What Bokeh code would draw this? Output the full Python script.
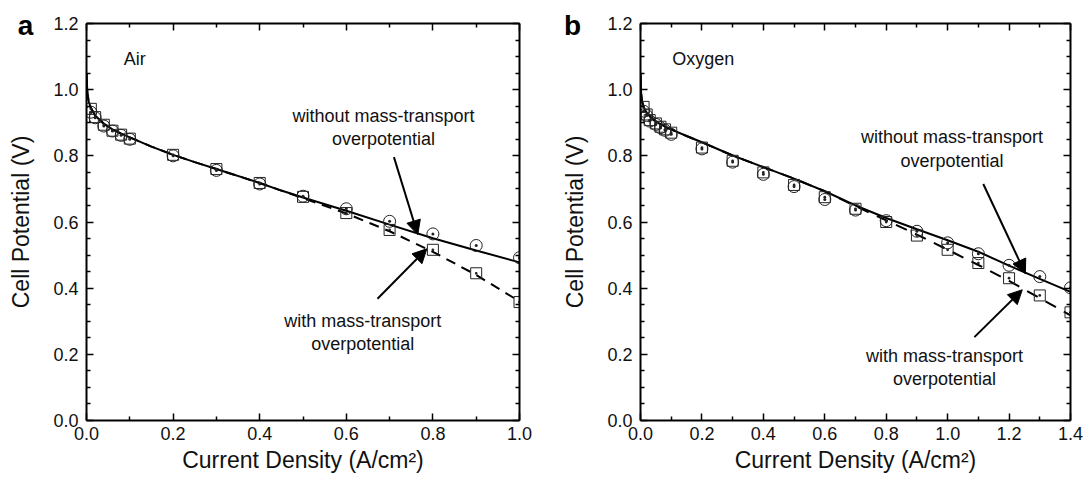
from bokeh.plotting import figure
from bokeh.layouts import row
from bokeh.models import (LinearAxis, FixedTicker, Range1d, Label, Arrow,
                          NormalHead, PrintfTickFormatter, CustomJSTickFormatter)
from bokeh.embed import file_html
from bokeh.resources import INLINE

FONT = "Liberation Sans"

# ---------------- Panel a : Air ----------------
air_x = [0.01, 0.02, 0.04, 0.06, 0.08, 0.1, 0.2, 0.3, 0.4, 0.5, 0.6, 0.7, 0.8, 0.9, 1.0]
air_circle = [0.932, 0.915, 0.890, 0.875, 0.862, 0.850, 0.800, 0.756, 0.715, 0.678,
              0.640, 0.602, 0.564, 0.529, 0.492]
air_square = [0.942, 0.917, 0.894, 0.876, 0.864, 0.852, 0.803, 0.760, 0.718, 0.676,
              0.627, 0.576, 0.516, 0.445, 0.358]
air_line_x = [0.0, 0.002, 0.005, 0.01, 0.02, 0.04, 0.06, 0.08, 0.1, 0.15, 0.2, 0.25,
              0.3, 0.4, 0.45, 0.5, 0.6, 0.7, 0.8, 0.9, 1.0]
air_without = [1.05, 0.99, 0.965, 0.945, 0.922, 0.897, 0.880, 0.867, 0.856, 0.828, 0.803,
               0.781, 0.760, 0.718, 0.695, 0.674, 0.634, 0.592, 0.551, 0.514, 0.478]
air_with = [1.05, 0.99, 0.965, 0.945, 0.922, 0.897, 0.880, 0.867, 0.856, 0.828, 0.803,
            0.781, 0.760, 0.718, 0.695, 0.672, 0.626, 0.572, 0.510, 0.440, 0.360]

# ---------------- Panel b : Oxygen ----------------
oxy_x = [0.01, 0.02, 0.03, 0.05, 0.065, 0.08, 0.1, 0.2, 0.3, 0.4, 0.5, 0.6, 0.7, 0.8,
         0.9, 1.0, 1.1, 1.2, 1.3, 1.4]
oxy_circle = [0.935, 0.922, 0.905, 0.895, 0.885, 0.877, 0.865, 0.821, 0.781, 0.744,
              0.707, 0.668, 0.636, 0.604, 0.572, 0.537, 0.504, 0.469, 0.435, 0.401]
oxy_square = [0.948, 0.925, 0.908, 0.898, 0.888, 0.880, 0.870, 0.825, 0.785, 0.750,
              0.712, 0.675, 0.640, 0.600, 0.559, 0.516, 0.476, 0.430, 0.378, 0.327]
oxy_line_x = [0.0, 0.002, 0.005, 0.01, 0.02, 0.04, 0.06, 0.08, 0.1, 0.15, 0.2, 0.3, 0.4,
              0.5, 0.6, 0.7, 0.8, 0.9, 1.0, 1.1, 1.2, 1.3, 1.4]
oxy_without = [1.05, 0.99, 0.965, 0.948, 0.930, 0.910, 0.898, 0.888, 0.880, 0.860, 0.841,
               0.801, 0.766, 0.731, 0.693, 0.650, 0.612, 0.578, 0.545, 0.510, 0.468,
               0.428, 0.389]
oxy_with = [1.05, 0.99, 0.965, 0.948, 0.930, 0.910, 0.898, 0.888, 0.880, 0.860, 0.841,
            0.801, 0.766, 0.731, 0.693, 0.648, 0.605, 0.562, 0.516, 0.470, 0.422,
            0.370, 0.318]

# ---------------- ticks and texts ----------------
y_ticks = [0.0, 0.2, 0.4, 0.6, 0.8, 1.0, 1.2]
y_minor = [0.05, 0.1, 0.15, 0.25, 0.3, 0.35, 0.45, 0.5, 0.55, 0.65, 0.7, 0.75,
           0.85, 0.9, 0.95, 1.05, 1.1, 1.15]
xa_ticks = [0.0, 0.2, 0.4, 0.6, 0.8, 1.0]
xa_minor = [0.1, 0.3, 0.5, 0.7, 0.9]
xb_ticks = [0.0, 0.2, 0.4, 0.6, 0.8, 1.0, 1.2, 1.4]
xb_minor = [0.1, 0.3, 0.5, 0.7, 0.9, 1.1, 1.3]

y_title = "Cell Potential (V)"
x_title = "Current Density (A/cm²)"
txt_without = ["without mass-transport", "overpotential"]
txt_with = ["with mass-transport", "overpotential"]


def style_axis(ax, ticks, minor, labels=True):
    ax.ticker = FixedTicker(ticks=ticks, minor_ticks=minor)
    ax.major_tick_in = 7
    ax.major_tick_out = 0
    ax.minor_tick_in = 4
    ax.minor_tick_out = 0
    ax.major_tick_line_width = 1.5
    ax.minor_tick_line_width = 1.5
    ax.major_tick_line_color = "black"
    ax.minor_tick_line_color = "black"
    ax.axis_line_width = 2
    ax.axis_line_color = "black"
    if labels:
        ax.formatter = PrintfTickFormatter(format="%.1f")
        ax.major_label_text_font = FONT
        ax.major_label_text_font_size = "18px"
        ax.major_label_text_color = "#111111"
        ax.axis_label_text_font = FONT
        ax.axis_label_text_font_size = "23px"
        ax.axis_label_text_font_style = "normal"
        ax.axis_label_text_color = "#111111"
    else:
        ax.formatter = CustomJSTickFormatter(code="return ''")
        ax.major_label_text_font_size = "0px"
        ax.major_label_standoff = 0


def make_panel(xmax, xt, xm, lx, lwo, lwi, px, pc, ps, bl, br, gas, gas_x,
               wo_xy, wo_arrow, wi_xy, wi_arrow, dash):
    p = figure(width=542, height=481, x_range=Range1d(0, xmax), y_range=Range1d(0, 1.2),
               output_backend="svg", toolbar_location=None,
               min_border_left=bl, min_border_right=br, min_border_top=23,
               min_border_bottom=61)
    p.grid.visible = False
    p.outline_line_color = "black"
    p.outline_line_width = 1
    p.background_fill_color = "white"
    p.border_fill_color = "white"

    style_axis(p.xaxis[0], xt, xm)
    style_axis(p.yaxis[0], y_ticks, y_minor)
    p.xaxis[0].axis_label = x_title
    p.yaxis[0].axis_label = y_title
    p.xaxis[0].major_label_standoff = 6
    p.xaxis[0].axis_label_standoff = 4
    p.yaxis[0].major_label_standoff = 8
    p.yaxis[0].axis_label_standoff = 16

    top = LinearAxis()
    style_axis(top, xt, xm, labels=False)
    p.add_layout(top, "above")
    right = LinearAxis()
    style_axis(right, y_ticks, y_minor, labels=False)
    p.add_layout(right, "right")

    p.line(lx, lwi, line_width=2, line_color="black", line_dash=dash)
    p.line(lx, lwo, line_width=2, line_color="black")
    p.scatter(px, pc, marker="circle_dot", size=12, fill_color=None,
              line_color="#222222", line_width=1)
    p.scatter(px, ps, marker="square_dot", size=11, fill_color=None,
              line_color="#222222", line_width=1)

    p.add_layout(Label(x=gas_x, y=1.092, text=gas, text_font=FONT, text_font_size="18px",
                       text_align="left", text_baseline="middle", text_color="#111111"))

    for (tx, ty1, ty2), lines in ((wo_xy, txt_without), (wi_xy, txt_with)):
        for ty, t in zip((ty1, ty2), lines):
            p.add_layout(Label(x=tx, y=ty, text=t, text_font=FONT, text_font_size="18px",
                               text_align="center", text_baseline="middle",
                               text_color="#111111"))

    for (x0, y0, x1, y1) in (wo_arrow, wi_arrow):
        p.add_layout(Arrow(x_start=x0, y_start=y0, x_end=x1, y_end=y1,
                           line_width=2, line_color="black",
                           end=NormalHead(size=14, fill_color="black",
                                          line_color="black")))
    return p


def letter_label(text, sx):
    # panel letter, kept in a side panel so that it is not clipped to the frame
    return Label(x=sx, y=395, x_units="screen", y_units="screen", text=text,
                 text_font=FONT, text_font_size="28px", text_font_style="bold",
                 text_align="center", text_baseline="middle", text_color="black")


pa = make_panel(1.0, xa_ticks, xa_minor, air_line_x, air_without, air_with, air_x,
                air_circle, air_square, 86, 23, "Air", 0.086,
                (0.686, 0.921, 0.851), (0.710, 0.796, 0.765, 0.562),
                (0.638, 0.302, 0.232), (0.672, 0.368, 0.786, 0.519), "10 7")
pb = make_panel(1.4, xb_ticks, xb_minor, oxy_line_x, oxy_without, oxy_with, oxy_x,
                oxy_circle, oxy_square, 96, 14, "Oxygen", 0.103,
                (1.014, 0.856, 0.785), (1.116, 0.715, 1.253, 0.444),
                (0.99, 0.196, 0.126), (1.087, 0.252, 1.243, 0.395), "12 9")

pa.add_layout(letter_label("a", -494), "right")
pb.add_layout(letter_label("b", 30), "left")

layout = row(pa, pb)
open("out.html", "w").write(file_html(layout, INLINE))
